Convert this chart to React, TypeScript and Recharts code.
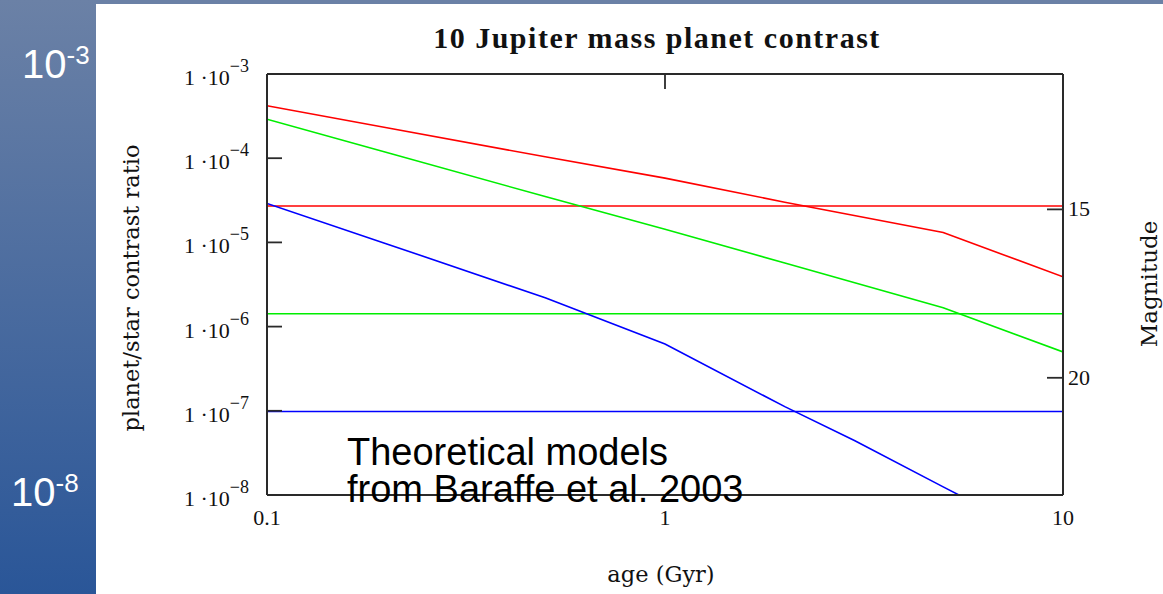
import { LineChart, Line, XAxis, YAxis } from "recharts"

// ages in Gyr, contrast = planet/star flux ratio
const ages = [0.1, 0.2, 0.5, 1, 2, 5, 10]
const redContrast = [4.2e-4, 2.3e-4, 1.04e-4, 5.8e-5, 3.0e-5, 1.31e-5, 3.9e-6]
const greenContrast = [2.9e-4, 1.17e-4, 3.5e-5, 1.43e-5, 5.7e-6, 1.67e-6, 5.0e-7]
const blueAges = [0.1, 0.2, 0.5, 1, 2, 3, 5, 10]
const blueContrast = [2.9e-5, 9.6e-6, 2.2e-6, 6.2e-7, 1.12e-7, 4.4e-8, 1.25e-8, 2.3e-9]

// detection limits, in magnitudes (right axis)
const limitAges = [0.1, 10]
const redLimit = 14.9
const greenLimit = 18.1
const blueLimit = 21.0

const ageTicks = [0.1, 1, 10]
const topTicks = [1]
const contrastTicks = [1e-8, 1e-7, 1e-6, 1e-5, 1e-4, 1e-3]
const magTicks = [15, 20]

// magnitude = MAG_ZERO - 2.5 log10(contrast)
const MAG_ZERO = 3.48
const magDomain = [MAG_ZERO - 2.5 * Math.log10(1e-3), MAG_ZERO - 2.5 * Math.log10(1e-8)]

const toRows = (xs: number[], ys: number[]) => xs.map((age, i) => ({ age, ratio: ys[i] }))
const toLimit = (mag: number) => limitAges.map((age) => ({ age, mag }))

const AXIS = "#2a2a2a"
const TICK_FONT = "Liberation Serif, Times New Roman, serif"
const TITLE_FONT = "DejaVu Serif, serif"

function ContrastTick({ x, y, payload }: any) {
  const exp = Math.round(Math.log10(payload.value))
  return (
    <g>
      <line x1={x + 18} x2={x + 33} y1={y} y2={y} stroke={AXIS} strokeWidth={1.8} />
      <text x={x} y={y + 11} textAnchor="end" fontFamily={TICK_FONT} fontSize={22} fill="#111">
        1 ·10
        <tspan dy={-13} fontSize={18}>
          {"\u2212" + -exp}
        </tspan>
      </text>
    </g>
  )
}

function MagTick({ x, y, payload }: any) {
  return (
    <g>
      <line x1={x - 21} x2={x - 5} y1={y} y2={y} stroke={AXIS} strokeWidth={1.8} />
      <text x={x} y={y + 7} textAnchor="start" fontFamily={TICK_FONT} fontSize={22} fill="#111">
        {payload.value}
      </text>
    </g>
  )
}

function AgeTick({ x, y, payload }: any) {
  return (
    <text x={x} y={y + 30} textAnchor="middle" fontFamily={TICK_FONT} fontSize={22} fill="#111">
      {payload.value}
    </text>
  )
}

function TopTick({ x, y }: any) {
  return <line x1={x} x2={x} y1={y} y2={y + 15} stroke={AXIS} strokeWidth={1.8} />
}

function Power({ x, y, exp }: { x: number; y: number; exp: string }) {
  return (
    <text x={x} y={y} fill="#fff" fontFamily="Liberation Sans, Arial, sans-serif" fontSize={40}>
      10
      <tspan dy={-14} fontSize={26}>
        {exp}
      </tspan>
    </text>
  )
}

export default function App() {
  return (
    <div style={{ position: "absolute", left: 0, top: 0, width: 1163, height: 594, background: "#fff", overflow: "hidden" }}>
      <svg width={1163} height={594} style={{ position: "absolute", left: 0, top: 0 }}>
        <defs>
          <linearGradient id="panel" x1="0" y1="0" x2="0" y2="1">
            <stop offset="0%" stopColor="#6b81a6" />
            <stop offset="100%" stopColor="#2a5698" />
          </linearGradient>
        </defs>
        <rect x={0} y={0} width={1163} height={4} fill="#6b81a6" />
        <rect x={0} y={0} width={96} height={594} fill="url(#panel)" />
      </svg>

      <div style={{ position: "absolute", left: 0, top: 0 }}>
        <LineChart width={1163} height={594} margin={{ top: 0, right: 0, bottom: 0, left: 0 }}>
          <XAxis
            xAxisId="age"
            dataKey="age"
            type="number"
            scale="log"
            domain={[0.1, 10]}
            ticks={ageTicks}
            interval={0}
            allowDataOverflow
            height={99}
            tickSize={0}
            tickMargin={0}
            tickLine={false}
            tick={<AgeTick />}
            axisLine={{ stroke: AXIS, strokeWidth: 2 }}
          />
          <XAxis
            xAxisId="top"
            orientation="top"
            dataKey="age"
            type="number"
            scale="log"
            domain={[0.1, 10]}
            ticks={topTicks}
            interval={0}
            allowDataOverflow
            height={74}
            tickSize={0}
            tickMargin={0}
            tickLine={false}
            tick={<TopTick />}
            axisLine={{ stroke: AXIS, strokeWidth: 2 }}
          />
          <YAxis
            yAxisId="contrast"
            type="number"
            scale="log"
            domain={[1e-8, 1e-3]}
            ticks={contrastTicks}
            interval={0}
            allowDataOverflow
            width={267}
            tickSize={0}
            tickMargin={18}
            tickLine={false}
            tick={<ContrastTick />}
            axisLine={{ stroke: AXIS, strokeWidth: 2 }}
          />
          <YAxis
            yAxisId="mag"
            orientation="right"
            type="number"
            domain={magDomain}
            reversed
            ticks={magTicks}
            interval={0}
            allowDataOverflow
            width={100}
            tickSize={0}
            tickMargin={5}
            tickLine={false}
            tick={<MagTick />}
            axisLine={{ stroke: AXIS, strokeWidth: 2 }}
          />

          <Line xAxisId="top" yAxisId="mag" data={toLimit(redLimit)} dataKey="mag" stroke="#ff0000" strokeWidth={1.6} dot={false} isAnimationActive={false} />
          <Line xAxisId="top" yAxisId="mag" data={toLimit(greenLimit)} dataKey="mag" stroke="#00ee00" strokeWidth={1.6} dot={false} isAnimationActive={false} />
          <Line xAxisId="top" yAxisId="mag" data={toLimit(blueLimit)} dataKey="mag" stroke="#0000ff" strokeWidth={1.6} dot={false} isAnimationActive={false} />

          <Line xAxisId="age" yAxisId="contrast" type="linear" data={toRows(ages, redContrast)} dataKey="ratio" stroke="#ff0000" strokeWidth={1.6} dot={false} isAnimationActive={false} />
          <Line xAxisId="age" yAxisId="contrast" type="linear" data={toRows(ages, greenContrast)} dataKey="ratio" stroke="#00ee00" strokeWidth={1.6} dot={false} isAnimationActive={false} />
          <Line xAxisId="age" yAxisId="contrast" type="linear" data={toRows(blueAges, blueContrast)} dataKey="ratio" stroke="#0000ff" strokeWidth={1.6} dot={false} isAnimationActive={false} />
        </LineChart>
      </div>

      <svg width={1163} height={594} style={{ position: "absolute", left: 0, top: 0, pointerEvents: "none" }}>
        <Power x={22} y={78} exp="-3" />
        <Power x={11} y={506} exp="-8" />
        <text x={657} y={48} textAnchor="middle" fontFamily={TICK_FONT} fontWeight="bold" fontSize={30} letterSpacing={1.5} fill="#111">
          10 Jupiter mass planet contrast
        </text>
        <text transform="translate(139,288) rotate(-90)" textAnchor="middle" fontFamily={TITLE_FONT} fontSize={22.5} fill="#111">
          planet/star contrast ratio
        </text>
        <text x={661} y={582} textAnchor="middle" fontFamily={TITLE_FONT} fontSize={22.5} fill="#111">
          age (Gyr)
        </text>
        <text transform="translate(1157,284) rotate(-90)" textAnchor="middle" fontFamily={TITLE_FONT} fontSize={23} fill="#111">
          Magnitude
        </text>
        <text fontFamily="Liberation Sans, Arial, sans-serif" fontSize={38} fill="#000">
          <tspan x={347} y={465}>Theoretical models</tspan>
          <tspan x={347} y={502}>from Baraffe et al. 2003</tspan>
        </text>
      </svg>
    </div>
  )
}
